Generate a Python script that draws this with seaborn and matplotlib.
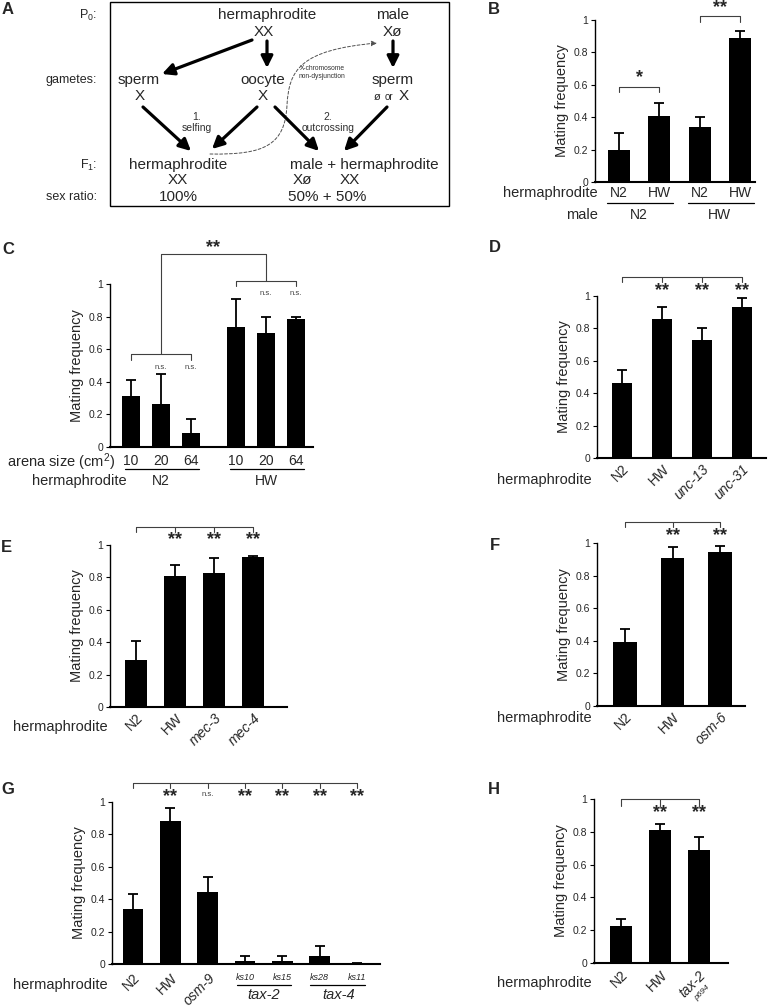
import numpy as np
import pandas as pd
import matplotlib
matplotlib.use("Agg")
import matplotlib.pyplot as plt
import matplotlib.transforms as mtransforms
from matplotlib.path import Path
from matplotlib.patches import FancyArrowPatch, Rectangle
import seaborn as sns

# ---- values ----
b_herm = ["N2", "HW", "N2", "HW"]
b_male = ["N2", "HW"]
b_mean = [0.20, 0.41, 0.34, 0.89]
b_top = [0.30, 0.49, 0.40, 0.935]

c_arena = ["10", "20", "64", "10", "20", "64"]
c_herm = ["N2", "HW"]
c_pos = [0, 1, 2, 3.5, 4.5, 5.5]
c_mean = [0.315, 0.265, 0.085, 0.735, 0.70, 0.785]
c_top = [0.41, 0.445, 0.17, 0.91, 0.80, 0.80]

d_strain = ["N2", "HW", "unc-13", "unc-31"]
d_mean = [0.46, 0.855, 0.73, 0.935]
d_top = [0.545, 0.93, 0.805, 0.985]

e_strain = ["N2", "HW", "mec-3", "mec-4"]
e_mean = [0.29, 0.81, 0.825, 0.925]
e_top = [0.41, 0.875, 0.92, 0.93]

f_strain = ["N2", "HW", "osm-6"]
f_mean = [0.39, 0.905, 0.945]
f_top = [0.475, 0.975, 0.98]

g_strain = ["N2", "HW", "osm-9", "ks10", "ks15", "ks28", "ks11"]
g_gene = ["tax-2", "tax-4"]
g_mean = [0.34, 0.885, 0.445, 0.02, 0.02, 0.05, 0.004]
g_top = [0.435, 0.96, 0.54, 0.05, 0.05, 0.11, 0.007]

h_strain = ["N2", "HW", "tax-2"]
h_allele = "p694"
h_mean = [0.225, 0.81, 0.69]
h_top = [0.27, 0.85, 0.77]

YTICKS = [0, 0.2, 0.4, 0.6, 0.8, 1]
YLABELS = ["0", "0.2", "0.4", "0.6", "0.8", "1"]

sns.set_theme(style="ticks")
plt.rcParams["font.family"] = ["Liberation Sans", "DejaVu Sans"]
plt.rcParams["mathtext.fontset"] = "custom"
plt.rcParams["mathtext.rm"] = "Liberation Sans"
plt.rcParams["mathtext.it"] = "Liberation Sans:italic"

W, H = 774, 1006
fig = plt.figure(figsize=(W / 100, H / 100), dpi=100)
LINE = "#404040"


def panel(left, right, y0, y1, c0, cn, pos, mean, top, width):
    ax = fig.add_axes([left / W, 1 - y0 / H, (right - left) / W, (y0 - y1) / H])
    df = pd.DataFrame({"pos": pos, "freq": mean})
    sns.barplot(data=df, x="pos", y="freq", native_scale=True, width=width,
                color="black", saturation=1, errorbar=None, linewidth=0, ax=ax)
    # upper half of the error bar only, as in the figure
    ax.vlines(pos, mean, top, color="black", lw=1.3)
    ax.plot(pos, top, ls="none", marker="_", ms=7, mew=1.3, color="black")
    k = (cn - c0) / (pos[-1] - pos[0])
    ax.set_xlim(pos[0] + (left - c0) / k, pos[0] + (right - c0) / k)
    ax.set_ylim(0, 1)
    ax.set_yticks(YTICKS)
    ax.set_yticklabels(YLABELS, fontsize=7.5)
    ax.set_xticks([])
    ax.set_xlabel("")
    ax.set_ylabel("Mating frequency", fontsize=10.5, labelpad=3)
    ax.tick_params(axis="y", length=3, width=0.8, pad=2, color="black")
    sns.despine(ax=ax)
    ax.spines["left"].set_linewidth(1.0)
    ax.spines["bottom"].set_linewidth(1.5)
    ax.spines["left"].set_color("black")
    ax.spines["bottom"].set_color("black")
    ax.patch.set_alpha(0)
    return ax


def below(ax, x, dy, s, dx=0, **kw):
    tr = mtransforms.offset_copy(ax.get_xaxis_transform(), fig=fig, x=dx, y=-dy, units="dots")
    kw.setdefault("ha", "center")
    kw.setdefault("va", "center")
    kw.setdefault("fontsize", 10)
    ax.text(x, 0, s, transform=tr, clip_on=False, **kw)


def underline(ax, x0, x1, dy):
    tr = mtransforms.offset_copy(ax.get_xaxis_transform(), fig=fig, x=0, y=-dy, units="dots")
    ax.plot([x0, x1], [0, 0], transform=tr, color="black", lw=0.9, clip_on=False)


def rotated(ax, pos, labels, italic=(), dy=4, dx=0, size=10):
    for p, s in zip(pos, labels):
        below(ax, p, dy, s, dx=dx, rotation=45, ha="right", va="top",
              rotation_mode="anchor", fontsize=size,
              fontstyle="italic" if s in italic else "normal")


def bracket(ax, x0, x1, y, legs, drop=0.035):
    ax.plot([x0, x1], [y, y], color=LINE, lw=0.8, clip_on=False)
    for x in legs:
        ax.plot([x, x], [y, y - drop], color=LINE, lw=0.8, clip_on=False)


def stars(ax, xs, y, s="**", size=13):
    for x in xs:
        ax.text(x, y, s, ha="center", va="center", fontsize=size,
                fontweight="bold", clip_on=False)


def ns(ax, xs, y):
    for x in xs:
        ax.text(x, y, "n.s.", ha="center", va="center", fontsize=5.5,
                color=LINE, clip_on=False)


# ---- B ----
pb = list(range(len(b_mean)))
ax = panel(595, 755, 182, 20, 619, 740, pb, b_mean, b_top, 0.55)
for p, s in zip(pb, b_herm):
    below(ax, p, 11, s)
underline(ax, pb[0] - 0.3, pb[1] + 0.35, 21)
underline(ax, pb[2] - 0.3, pb[3] + 0.35, 21)
for (a, b), s in zip([(pb[0], pb[1]), (pb[2], pb[3])], b_male):
    below(ax, (a + b) / 2, 33, s)
bracket(ax, pb[0], pb[1], 0.586, [pb[0], pb[1]], 0.03)
stars(ax, [(pb[0] + pb[1]) / 2], 0.645, "*")
bracket(ax, pb[2], pb[3], 1.025, [pb[2], pb[3]], 0.035)
stars(ax, [(pb[2] + pb[3]) / 2], 1.075)

# ---- C ----
ax = panel(110, 313, 447, 284, 131, 296, c_pos, c_mean, c_top, 0.57)
for p, s in zip(c_pos, c_arena):
    below(ax, p, 14, s)
underline(ax, c_pos[0] - 0.2, c_pos[2] + 0.27, 22)
underline(ax, c_pos[3] - 0.2, c_pos[5] + 0.27, 22)
below(ax, c_pos[1], 34, c_herm[0])
below(ax, c_pos[4], 34, c_herm[1])
bracket(ax, c_pos[0], c_pos[2], 0.57, [c_pos[0], c_pos[2]], 0.035)
bracket(ax, c_pos[3], c_pos[5], 1.02, [c_pos[3], c_pos[5]], 0.035)
ax.plot([c_pos[1], c_pos[1], c_pos[4], c_pos[4]], [0.57, 1.185, 1.185, 1.02],
        color=LINE, lw=0.8, clip_on=False)
stars(ax, [(c_pos[1] + c_pos[4]) / 2], 1.225)
ns(ax, c_pos[1:3], 0.49)
ns(ax, c_pos[4:6], 0.94)

# ---- D ----
pd_ = list(range(len(d_mean)))
ax = panel(597, 766, 458, 296, 622, 742, pd_, d_mean, d_top, 0.52)
rotated(ax, pd_, d_strain, italic=("unc-13", "unc-31"))
bracket(ax, pd_[0], pd_[-1], 1.117, pd_, 0.032)
stars(ax, pd_[1:], 1.035)

# ---- E ----
pe = list(range(len(e_mean)))
ax = panel(110, 287, 707, 545, 136, 253, pe, e_mean, e_top, 0.54)
rotated(ax, pe, e_strain, italic=("mec-3", "mec-4"))
bracket(ax, pe[0], pe[-1], 1.11, pe, 0.032)
stars(ax, pe[1:], 1.035)

# ---- F ----
pf = list(range(len(f_mean)))
ax = panel(597, 745, 706, 543, 625, 720, pf, f_mean, f_top, 0.5)
rotated(ax, pf, f_strain, italic=("osm-6",))
bracket(ax, pf[0], pf[-1], 1.13, pf, 0.032)
stars(ax, pf[1:], 1.045)

# ---- G ----
pg = list(range(len(g_mean)))
ax = panel(112, 380, 964, 802, 133, 357, pg, g_mean, g_top, 0.55)
rotated(ax, pg[:3], g_strain[:3], italic=("osm-9",), dy=7)
for p, s in zip(pg[3:], g_strain[3:]):
    below(ax, p, 13, s, fontsize=6.5, fontstyle="italic")
underline(ax, pg[3] - 0.22, pg[4] + 0.22, 21)
underline(ax, pg[5] - 0.25, pg[6] + 0.22, 21)
below(ax, (pg[3] + pg[4]) / 2, 31, g_gene[0], fontstyle="italic", fontsize=10.5)
below(ax, (pg[5] + pg[6]) / 2, 31, g_gene[1], fontstyle="italic", fontsize=10.5)
bracket(ax, pg[0], pg[-1], 1.12, pg, 0.035)
stars(ax, [pg[1]] + pg[3:], 1.035)
ns(ax, [pg[2]], 1.045)

# ---- H ----
ph = list(range(len(h_mean)))
ax = panel(594, 728, 963, 799, 621, 699, ph, h_mean, h_top, 0.56)
rotated(ax, ph, h_strain, italic=("tax-2",), dy=5)
below(ax, ph[2], 21, h_allele, dx=7, rotation=45, ha="right", va="top",
      rotation_mode="anchor", fontsize=6, fontstyle="italic")
bracket(ax, ph[0], ph[-1], 1.0, ph, 0.04)
stars(ax, ph[1:], 0.92)

# ---- overlay: panel A diagram, row labels, panel letters ----
ov = fig.add_axes([0, 0, 1, 1], zorder=5)
ov.set_xlim(0, W)
ov.set_ylim(H, 0)
ov.axis("off")

for s, x, y in [("A", 8, 9), ("B", 494, 9), ("C", 8, 249), ("D", 495, 247),
                ("E", 6, 548), ("F", 495, 546), ("G", 8, 790), ("H", 494, 790)]:
    ov.text(x, y, s, ha="center", va="center", fontsize=12, fontweight="bold")

for s, x, y in [("hermaphrodite", 598, 193), ("male", 598, 215),
                ("arena size (cm$^2$)", 115, 462), ("hermaphrodite", 127, 481),
                ("hermaphrodite", 592, 480), ("hermaphrodite", 108, 727),
                ("hermaphrodite", 592, 718), ("hermaphrodite", 108, 985),
                ("hermaphrodite", 592, 983)]:
    ov.text(x, y, s, ha="right", va="center", fontsize=10.5)

ov.add_patch(Rectangle((110, 2), 339, 204, fill=False, lw=1.0, ec="black"))
for s, y in [(r"P$_\mathregular{0}$:", 15), ("gametes:", 80),
             (r"F$_\mathregular{1}$:", 165), ("sex ratio:", 197)]:
    ov.text(97, y, s, ha="right", va="center", fontsize=9)

big = dict(ha="center", va="center", fontsize=11)
for s, x, y in [("hermaphrodite", 267, 15), ("XX", 264, 32),
                ("male", 393, 15), ("Xø", 392, 32),
                ("sperm", 139, 80), ("X", 140, 96),
                ("oocyte", 263, 80), ("X", 263, 96),
                ("sperm", 393, 80), ("X", 404, 96),
                ("hermaphrodite", 178, 165), ("XX", 178, 180), ("100%", 178, 197),
                ("male + hermaphrodite", 364, 165), ("Xø", 302, 180), ("XX", 350, 180),
                ("50% + 50%", 327, 197)]:
    ov.text(x, y, s, **big)
ov.text(377, 97, "ø", ha="center", va="center", fontsize=8)
ov.text(389, 97, "or", ha="center", va="center", fontsize=7)

small = dict(ha="center", va="center", fontsize=7.5, color="#303030")
ov.text(197, 117, "1.", **small)
ov.text(197, 128, "selfing", **small)
ov.text(328, 117, "2.", **small)
ov.text(328, 128, "outcrossing", **small)
ov.text(322, 68, "X-chromosome", ha="center", va="center", fontsize=4.8, color="#303030")
ov.text(322, 76, "non-dysjunction", ha="center", va="center", fontsize=4.8, color="#303030")

for (x0, y0), (x1, y1) in [((252, 40), (162, 74)), ((267, 41), (267, 68)),
                           ((393, 41), (393, 68)), ((143, 107), (191, 151)),
                           ((257, 107), (212, 149)), ((275, 107), (319, 151)),
                           ((387, 107), (344, 151))]:
    ov.annotate("", xy=(x1, y1), xytext=(x0, y0),
                arrowprops=dict(arrowstyle="-|>,head_length=0.5,head_width=0.25",
                                lw=2.3, color="black", shrinkA=0, shrinkB=0,
                                mutation_scale=14))

curve = Path([(210, 154), (265, 155), (285, 145), (287, 105),
              (289, 70), (300, 50), (377, 43)],
             [Path.MOVETO, Path.CURVE4, Path.CURVE4, Path.CURVE4,
              Path.CURVE4, Path.CURVE4, Path.CURVE4])
ov.add_patch(FancyArrowPatch(path=curve, arrowstyle="-|>,head_length=0.4,head_width=0.2",
                             mutation_scale=8, lw=0.7, ls=(0, (3, 2)), color="#505050"))

fig.savefig("out.png", dpi=100)
